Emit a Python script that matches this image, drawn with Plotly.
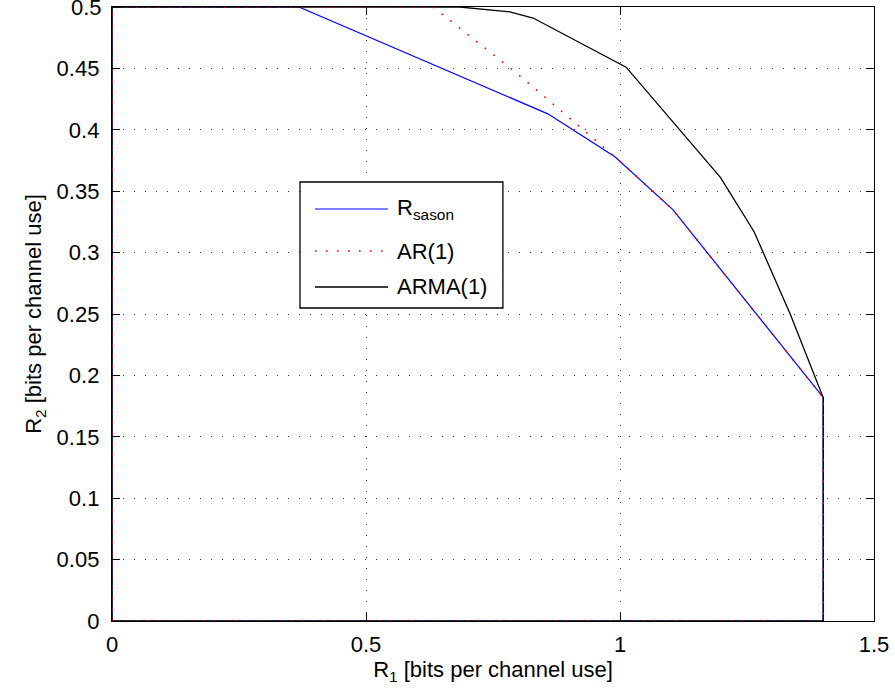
import plotly.graph_objects as go

# ---- data ----
r_sason_r1 = [0, 0, 0.368, 0.858, 0.99, 1.104, 1.4, 1.4, 0]
r_sason_r2 = [0, 0.5, 0.5, 0.413, 0.378, 0.335, 0.182, 0, 0]

ar1_r1 = [0, 0, 0.632, 0.80, 0.99, 1.104, 1.4, 1.4, 0]
ar1_r2 = [0, 0.5, 0.5, 0.445, 0.378, 0.335, 0.182, 0, 0]

arma_r1 = [0, 0, 0.685, 0.783, 0.829, 1.012, 1.198, 1.264, 1.335, 1.4, 1.4, 0]
arma_r2 = [0, 0.5, 0.5, 0.496, 0.491, 0.451, 0.361, 0.317, 0.25, 0.182, 0, 0]

x_ticks = [0, 0.5, 1, 1.5]
x_tick_labels = ["0", "0.5", "1", "1.5"]
y_ticks = [0, 0.05, 0.1, 0.15, 0.2, 0.25, 0.3, 0.35, 0.4, 0.45, 0.5]
y_tick_labels = ["0", "0.05", "0.1", "0.15", "0.2", "0.25", "0.3", "0.35", "0.4", "0.45", "0.5"]

legend_names = ["R<sub>sason</sub>", "AR(1)", "ARMA(1)"]
colors = ["#0000ff", "#ff0000", "#000000"]

FONT = "Liberation Sans, Arial, Helvetica, sans-serif"
FS = 22

fig = go.Figure()
fig.add_trace(go.Scatter(x=r_sason_r1, y=r_sason_r2, mode="lines",
                         line=dict(color=colors[0], width=1.2), name=legend_names[0],
                         showlegend=False))
fig.add_trace(go.Scatter(x=arma_r1, y=arma_r2, mode="lines",
                         line=dict(color=colors[2], width=1.3), name=legend_names[2],
                         showlegend=False))
fig.add_trace(go.Scatter(x=ar1_r1, y=ar1_r2, mode="lines",
                         line=dict(color=colors[1], width=1.6, dash="1.6px,9.4px"),
                         name=legend_names[1], showlegend=False))

axis_common = dict(
    showgrid=True, gridcolor="rgba(0,0,0,0.75)", gridwidth=1, griddash="1px,10px",
    showline=True, linecolor="black", linewidth=1.3, mirror="ticks",
    ticks="inside", ticklen=8, tickcolor="black", tickwidth=1,
    zeroline=False, tickfont=dict(family=FONT, size=FS, color="black"),
)

# top y tick label (0.5) sits at the very top edge; plotly hides it, so it is
# drawn as an annotation at the axis value instead
y_axis_vals = y_ticks[:-1]
y_axis_text = y_tick_labels[:-1]

fig.update_xaxes(range=[0, 1.5], tickvals=x_ticks, ticktext=x_tick_labels,
                 ticklabelstandoff=3,
                 title=dict(text="R<sub>1</sub> [bits per channel use]",
                            font=dict(family=FONT, size=FS, color="black"), standoff=6),
                 **axis_common)
fig.update_yaxes(range=[0, 0.5], tickvals=y_axis_vals, ticktext=y_axis_text,
                 ticklabelstandoff=7,
                 title=dict(text="R<sub>2</sub> [bits per channel use]",
                            font=dict(family=FONT, size=FS, color="black"), standoff=8),
                 **axis_common)
fig.add_shape(type="line", xref="paper", yref="y", x0=0, x1=8 / 762,
              y0=y_ticks[-1], y1=y_ticks[-1], line=dict(color="black", width=1))
fig.add_annotation(xref="paper", yref="y", x=0, y=y_ticks[-1], text=y_tick_labels[-1],
                   showarrow=False, xanchor="right", yanchor="middle", xshift=-8,
                   font=dict(family=FONT, size=FS, color="black"))

# ---- custom legend box (MATLAB style) ----
box = dict(x0=0.2467, x1=0.513, y0=0.5098, y1=0.715)
fig.add_shape(type="rect", xref="paper", yref="paper", **box,
              line=dict(color="black", width=1.3), fillcolor="white", layer="above")
entry_y = [0.671, 0.6026, 0.544]
dashes = ["solid", "1.6px,9.4px", "solid"]
widths = [1.2, 1.6, 1.3]
for name, col, yy, dsh, w in zip(legend_names, colors, entry_y, dashes, widths):
    fig.add_shape(type="line", xref="paper", yref="paper",
                  x0=0.2664, x1=0.3622, y0=yy, y1=yy, layer="above",
                  line=dict(color=col, width=w, dash=dsh))
    fig.add_annotation(xref="paper", yref="paper", x=0.372, y=yy, text=name,
                       showarrow=False, xanchor="left", yanchor="middle",
                       font=dict(family=FONT, size=FS, color="black"))

fig.update_layout(
    width=895, height=700,
    margin=dict(l=112, r=21, t=7, b=79),
    paper_bgcolor="white", plot_bgcolor="white",
    showlegend=False,
)

fig.write_html("out.html")
